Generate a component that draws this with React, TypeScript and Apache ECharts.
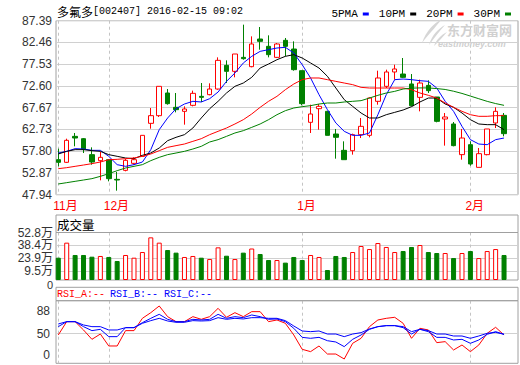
import React, { useEffect, useRef } from 'react';
import * as echarts from 'echarts';

const titleName = '多氟多';
const titleInfo = '[002407] 2016-02-15 09:02';
const monthLabels = ['11月', '12月', '1月', '2月'];
const monthIdx = [0, 6, 29, 49];
const priceTicks = [47.94, 52.87, 57.8, 62.73, 67.67, 72.6, 77.53, 82.46, 87.39];
const volTicks = [0, 9.5, 23.9, 38.4, 52.8];
const rsiTicks = [0, 50, 88];
const maNames = ['5PMA', '10PM', '20PM', '30PM'];
const rsiNames = ['RSI_A', 'RSI_B', 'RSI_C'];

const opens = [55.88, 55.28, 61.17, 60.64, 57.02, 55.66, 55.88, 51.42, 53.46, 55.05, 56.64, 64.12, 65.86, 71.0, 67.75, 66.84, 68.2, 70.24, 70.62, 71.9, 77.27, 75.91, 79.08, 76.97, 83.24, 81.58, 79.08, 82.94, 80.97, 76.06, 64.35, 67.44, 66.84, 61.7, 58.0, 57.92, 61.55, 61.4, 69.11, 72.51, 75.76, 75.3, 73.04, 70.01, 72.73, 70.09, 65.1, 63.97, 57.02, 59.28, 54.14, 57.02, 64.2, 65.93];
const closes = [55.28, 60.27, 60.79, 58.3, 55.35, 56.41, 51.58, 51.27, 55.73, 55.88, 61.4, 65.86, 72.51, 68.58, 67.22, 67.37, 70.92, 70.01, 71.9, 78.4, 75.91, 79.84, 78.78, 82.11, 82.71, 79.69, 82.11, 81.58, 76.29, 68.58, 66.24, 67.97, 61.4, 60.95, 55.88, 61.55, 63.44, 69.86, 74.4, 75.76, 76.44, 74.55, 68.12, 73.26, 71.53, 64.57, 65.56, 59.06, 60.79, 54.9, 57.24, 62.84, 66.84, 61.78];
const lows = [54.37, 55.13, 58.91, 57.39, 54.75, 51.2, 50.97, 48.85, 53.24, 54.75, 56.64, 62.91, 65.56, 68.35, 66.61, 63.82, 67.97, 68.96, 70.47, 71.75, 73.26, 74.55, 78.55, 76.82, 80.82, 79.08, 78.93, 79.31, 76.06, 68.2, 61.93, 62.68, 61.4, 56.11, 55.88, 57.02, 60.79, 60.95, 68.35, 72.13, 74.02, 74.4, 67.97, 66.84, 71.0, 64.35, 59.06, 58.91, 55.88, 54.52, 54.14, 56.87, 63.06, 61.17];
const highs = [58.38, 60.64, 61.93, 60.79, 58.68, 57.62, 56.0, 53.09, 56.03, 56.41, 61.4, 67.6, 72.51, 71.9, 71.0, 67.97, 71.53, 73.26, 73.19, 79.08, 78.4, 79.84, 86.49, 83.84, 85.96, 84.07, 82.33, 83.47, 82.71, 76.06, 68.35, 68.5, 66.84, 62.84, 60.04, 61.78, 65.33, 70.01, 76.06, 76.29, 77.42, 78.93, 75.3, 74.02, 73.87, 70.09, 66.46, 64.42, 62.84, 60.04, 58.53, 62.84, 67.75, 66.46];

const ma5 = [57.39, 57.77, 58.38, 58.3, 58.0, 58.0, 56.64, 54.75, 54.37, 54.75, 55.35, 58.15, 62.68, 65.33, 67.44, 68.5, 69.11, 68.96, 69.71, 71.22, 73.64, 75.53, 77.8, 79.31, 80.44, 80.82, 81.2, 81.35, 80.07, 77.42, 74.4, 70.62, 67.22, 64.2, 62.31, 61.4, 61.4, 61.93, 66.08, 70.62, 74.02, 74.17, 74.02, 73.79, 73.64, 72.13, 69.11, 66.84, 63.44, 60.42, 59.43, 59.28, 60.42, 60.79];
const ma10 = [57.17, 57.77, 58.15, 58.15, 57.92, 57.77, 57.02, 56.64, 56.26, 56.11, 56.87, 57.39, 58.53, 60.19, 60.95, 61.55, 63.06, 65.33, 67.44, 69.11, 71.0, 72.51, 73.26, 74.55, 76.66, 77.57, 78.55, 79.31, 79.69, 78.93, 77.8, 76.66, 74.78, 72.13, 69.49, 67.97, 66.46, 65.33, 65.33, 66.08, 66.61, 67.14, 67.9, 68.96, 69.86, 69.86, 68.5, 67.75, 66.46, 64.95, 63.97, 63.82, 63.82, 62.68];
const ma20 = [53.84, 54.07, 54.37, 54.67, 54.98, 55.35, 55.88, 55.96, 56.11, 56.26, 56.64, 57.17, 57.92, 58.68, 59.06, 59.43, 60.04, 60.64, 61.55, 62.31, 63.06, 63.97, 64.95, 66.24, 67.75, 69.11, 70.24, 71.75, 73.04, 74.02, 74.4, 74.4, 74.02, 73.64, 73.26, 72.89, 72.28, 72.13, 72.13, 72.13, 72.13, 72.13, 71.75, 71.0, 70.47, 69.86, 68.73, 67.75, 66.84, 66.08, 65.71, 65.71, 65.86, 65.86];
const ma30 = [50.37, 50.67, 50.97, 51.27, 51.58, 52.1, 52.71, 53.39, 53.99, 54.37, 54.75, 55.66, 56.41, 57.02, 57.39, 57.77, 58.3, 58.91, 59.89, 60.42, 61.17, 61.93, 62.46, 63.21, 63.97, 64.95, 66.08, 66.99, 67.6, 67.9, 68.13, 68.5, 68.73, 68.73, 68.96, 69.11, 69.26, 69.86, 70.47, 71.0, 71.37, 71.9, 72.1, 72.15, 72.15, 72.0, 71.8, 71.4, 70.9, 70.3, 69.7, 69.1, 68.6, 68.2];

const volumes = [24.8, 41.5, 27.8, 27.8, 25.9, 26.7, 25.6, 21.1, 27.8, 24.8, 31.1, 47.4, 41.5, 33.3, 30.4, 25.6, 26.7, 24.8, 23.3, 36.3, 27.0, 23.3, 30.4, 35.0, 28.9, 22.2, 22.2, 19.3, 25.6, 22.2, 27.8, 25.6, 11.1, 26.7, 25.6, 31.1, 37.8, 34.4, 41.1, 36.7, 31.1, 32.2, 36.7, 38.9, 31.1, 30.0, 30.0, 24.4, 30.0, 32.2, 24.4, 32.2, 34.4, 27.8];

const rsiA = [47.6, 70.0, 70.0, 56.0, 40.3, 49.2, 29.1, 29.1, 54.9, 54.9, 75.6, 85.1, 96.3, 78.4, 70.0, 70.0, 78.4, 73.9, 78.4, 92.4, 77.3, 85.1, 78.4, 86.8, 86.8, 70.0, 72.8, 67.2, 47.6, 23.5, 19.6, 29.1, 15.6, 15.6, 7.2, 33.6, 42.0, 61.6, 72.8, 75.6, 77.3, 67.2, 42.0, 58.8, 56.0, 34.7, 36.4, 22.4, 30.8, 19.6, 30.8, 50.4, 60.5, 47.6];
const rsiB = [61.6, 70.0, 70.0, 61.6, 54.9, 57.1, 44.8, 44.8, 59.9, 59.9, 68.3, 75.6, 82.3, 73.9, 70.0, 70.0, 73.9, 72.8, 73.9, 82.3, 75.6, 78.4, 76.7, 81.2, 78.4, 73.9, 74.5, 70.0, 58.8, 43.6, 42.0, 43.6, 38.0, 35.8, 28.0, 40.3, 47.6, 57.1, 61.6, 63.3, 63.3, 59.9, 49.2, 57.1, 53.2, 43.6, 43.6, 39.2, 40.3, 33.6, 39.2, 48.7, 53.2, 48.7];
const rsiC = [66.1, 70.0, 70.0, 64.4, 61.6, 61.6, 56.0, 56.0, 59.9, 59.9, 67.2, 71.7, 75.6, 71.1, 68.9, 68.9, 71.7, 71.1, 71.7, 76.7, 73.9, 75.6, 74.5, 76.7, 76.7, 75.6, 75.6, 71.7, 62.7, 54.3, 53.2, 54.3, 49.2, 49.2, 44.8, 49.2, 51.5, 57.7, 61.6, 63.3, 63.3, 61.6, 53.2, 57.1, 54.9, 49.2, 49.2, 45.9, 45.9, 42.0, 45.9, 50.4, 52.0, 48.7];

const RED = '#ff0000';
const GREEN = '#008000';
const BLUE = '#0000ff';
const FRAME = '#a0a0a0';
const GRIDC = '#d0d0d0';
const SANS = 'Liberation Sans, Noto Sans CJK SC, sans-serif';
const MONO = 'Liberation Mono, Noto Sans CJK SC, monospace';
const CJK = 'Noto Sans CJK SC, sans-serif';

const X_MIN = -0.273;
const X_MAX = 54.66;

const logoPath =
  'M22 0 C14 4 6 12 2 24 C8 16 14 10 22 0 Z M25 6 C18 10 12 16 9 26 C14 19 19 13 25 6 Z M27 13 C21 16 16 21 14 27 C19 22 23 18 27 13 Z';

let logoRegistered = false;

const volLabel = (v: number) => (v === 0 ? '0' : v + '万');

function xAxisFor(gridIndex: number) {
  return {
    type: 'value',
    gridIndex,
    min: X_MIN,
    max: X_MAX,
    axisLine: { show: false },
    axisTick: { show: false, customValues: monthIdx },
    axisLabel: { show: false },
    splitLine: { show: true, lineStyle: { color: '#c4c4c4', type: [3, 3], width: 1 } },
  };
}

export default function App() {
  const ref = useRef<HTMLDivElement>(null);

  useEffect(() => {
    if (!ref.current) return;
    if (!logoRegistered) {
      echarts.graphic.registerShape('emlogo', echarts.graphic.extendPath(logoPath, {}) as any);
      logoRegistered = true;
    }
    const chart = echarts.init(ref.current, null, { renderer: 'svg' });

    const isUp = (i: number) => closes[i] >= opens[i];

    const option: any = {
      animation: false,
      legend: {
        data: maNames,
        right: 4,
        top: 3,
        icon: 'rect',
        itemWidth: 6,
        itemHeight: 3,
        itemGap: 10,
        align: 'right',
        selectedMode: false,
        textStyle: { fontFamily: MONO, fontSize: 11, lineHeight: 12, color: '#000' },
      },
      grid: [
        { left: 56, right: 2, top: 20.7, height: 174, show: true, borderColor: FRAME, borderWidth: 1 },
        { left: 56, right: 2, top: 232.5, height: 47.5, show: true, borderColor: FRAME, borderWidth: 1 },
        { left: 56, right: 2, top: 300.7, height: 62.6, show: true, borderColor: FRAME, borderWidth: 1 },
      ],
      xAxis: [xAxisFor(0), xAxisFor(1), xAxisFor(2)],
      yAxis: [
        {
          type: 'value',
          gridIndex: 0,
          min: priceTicks[0],
          max: priceTicks[priceTicks.length - 1],
          axisLine: { show: false },
          axisTick: { show: false, customValues: priceTicks },
          axisLabel: {
            customValues: priceTicks,
            showMinLabel: true,
            showMaxLabel: true,
            formatter: (v: number) => v.toFixed(2),
            fontFamily: SANS,
            fontSize: 12,
            color: '#333',
            margin: 4,
          },
          splitLine: { show: true, lineStyle: { color: GRIDC, width: 1 } },
        },
        {
          type: 'value',
          gridIndex: 1,
          min: 0,
          max: volTicks[volTicks.length - 1],
          axisLine: { show: false },
          axisTick: { show: false, customValues: volTicks.slice(1, volTicks.length - 1) },
          axisLabel: {
            // the lowest tick ("0") is drawn separately below so it is not dropped as overlapping
            customValues: volTicks.slice(1),
            showMinLabel: true,
            showMaxLabel: true,
            formatter: volLabel,
            fontFamily: SANS,
            fontSize: 12,
            color: '#333',
            margin: 3,
          },
          splitLine: { show: true, lineStyle: { color: GRIDC, width: 1 } },
        },
        {
          type: 'value',
          gridIndex: 2,
          min: 0,
          max: 105.2,
          axisLine: { show: false },
          axisTick: { show: false, customValues: [50] },
          axisLabel: {
            customValues: rsiTicks,
            showMinLabel: true,
            showMaxLabel: true,
            formatter: (v: number) => (v === 0 ? '{z|0}' : String(v)),
            rich: { z: { padding: [0, 0, 16, 0], fontFamily: SANS, fontSize: 12, color: '#333' } },
            fontFamily: SANS,
            fontSize: 12,
            color: '#333',
            margin: 6,
          },
          splitLine: { show: true, lineStyle: { color: GRIDC, width: 1 } },
        },
      ],
      series: [
        {
          type: 'candlestick',
          name: 'K',
          xAxisIndex: 0,
          yAxisIndex: 0,
          barWidth: 5,
          encode: { x: 0, y: [1, 2, 3, 4] },
          data: opens.map((o, i) => [i, o, closes[i], lows[i], highs[i]]),
          itemStyle: {
            color: '#ffffff',
            color0: GREEN,
            borderColor: RED,
            borderColor0: GREEN,
            borderWidth: 1,
          },
        },
        ...[ma5, ma10, ma20, ma30].map((arr, k) => {
          const c = [BLUE, '#000000', RED, GREEN][k];
          return {
            type: 'line',
            name: maNames[k],
            xAxisIndex: 0,
            yAxisIndex: 0,
            data: arr.map((v, i) => [i, v]),
            symbol: 'none',
            color: c,
            lineStyle: { width: 1, color: c },
            z: 3,
          };
        }),
        {
          type: 'bar',
          name: 'VOL',
          xAxisIndex: 1,
          yAxisIndex: 1,
          barWidth: 5,
          data: volumes.map((v, i) => ({
            value: [i, v],
            itemStyle: isUp(i)
              ? { color: '#ffffff', borderColor: RED, borderWidth: 1 }
              : { color: GREEN, borderColor: GREEN, borderWidth: 1 },
          })),
        },
        ...[rsiA, rsiB, rsiC].map((arr, k) => {
          const c = [RED, BLUE, BLUE][k];
          return {
            type: 'line',
            name: rsiNames[k],
            xAxisIndex: 2,
            yAxisIndex: 2,
            data: arr.map((v, i) => [i, v]),
            symbol: 'none',
            color: c,
            lineStyle: { width: 1, color: c },
          };
        }),
      ],
    };

    chart.setOption(option);

    const monthTexts = monthLabels.map((label, k) => {
      const px = chart.convertToPixel({ xAxisIndex: 0 }, monthIdx[k]) as number;
      return {
        type: 'text',
        x: px - 5,
        y: 206,
        style: {
          text: label,
          fill: RED,
          fontSize: 12,
          fontFamily: SANS,
          textAlign: 'left',
          textVerticalAlign: 'middle',
        },
      };
    });

    const volZeroY = chart.convertToPixel({ yAxisIndex: 1 }, volTicks[0]) as number;

    const rsiX = [57, 110, 164];
    const rsiColors = [RED, BLUE, BLUE];

    chart.setOption({
      graphic: [
        {
          type: 'text',
          x: 57,
          y: 11,
          style: {
            text: `{a|${titleName}}{b|${titleInfo}}`,
            rich: {
              a: { fontFamily: CJK, fontSize: 12, fill: '#000' },
              b: { fontFamily: MONO, fontSize: 10, fill: '#000' },
            },
            textVerticalAlign: 'middle',
          },
        },
        {
          type: 'emlogo',
          x: 420,
          y: 19,
          style: { fill: '#d6d6d6' },
          z: 0,
        },
        {
          type: 'text',
          x: 447,
          y: 29,
          z: 0,
          style: {
            text: '东方财富网',
            fill: '#d0d0d0',
            fontSize: 13,
            lineHeight: 12,
            fontWeight: 'bold',
            fontFamily: CJK,
            textVerticalAlign: 'middle',
          },
        },
        {
          type: 'text',
          x: 438,
          y: 43.5,
          z: 0,
          style: {
            text: 'eastmoney.com',
            fill: '#d0d0d0',
            fontSize: 9,
            lineHeight: 8,
            fontWeight: 'bold',
            fontStyle: 'italic',
            fontFamily: SANS,
            textVerticalAlign: 'middle',
          },
        },
        ...monthTexts,
        {
          type: 'text',
          x: 53,
          y: volZeroY + 4.5,
          style: {
            text: volLabel(volTicks[0]),
            fill: '#333',
            fontSize: 11,
            fontFamily: SANS,
            textAlign: 'right',
            textVerticalAlign: 'middle',
          },
        },
        {
          type: 'rect',
          shape: { x: 56, y: 215, width: 462, height: 17.5 },
          style: { fill: 'none', stroke: FRAME, lineWidth: 1 },
        },
        {
          type: 'text',
          x: 57,
          y: 224,
          style: {
            text: '成交量',
            fill: '#000',
            fontSize: 12.5,
            fontFamily: CJK,
            textVerticalAlign: 'middle',
          },
        },
        {
          type: 'rect',
          shape: { x: 56, y: 287.3, width: 462, height: 13.4 },
          style: { fill: 'none', stroke: FRAME, lineWidth: 1 },
        },
        ...rsiNames.map((n, k) => ({
          type: 'text',
          x: rsiX[k],
          y: 294,
          style: {
            text: n + ':--',
            fill: rsiColors[k],
            fontSize: 10,
            fontFamily: MONO,
            textVerticalAlign: 'middle',
          },
        })),
      ],
    });

    return () => {
      chart.dispose();
    };
  }, []);

  return <div ref={ref} style={{ position: 'absolute', left: 0, top: 0, width: 520, height: 365 }} />;
}
